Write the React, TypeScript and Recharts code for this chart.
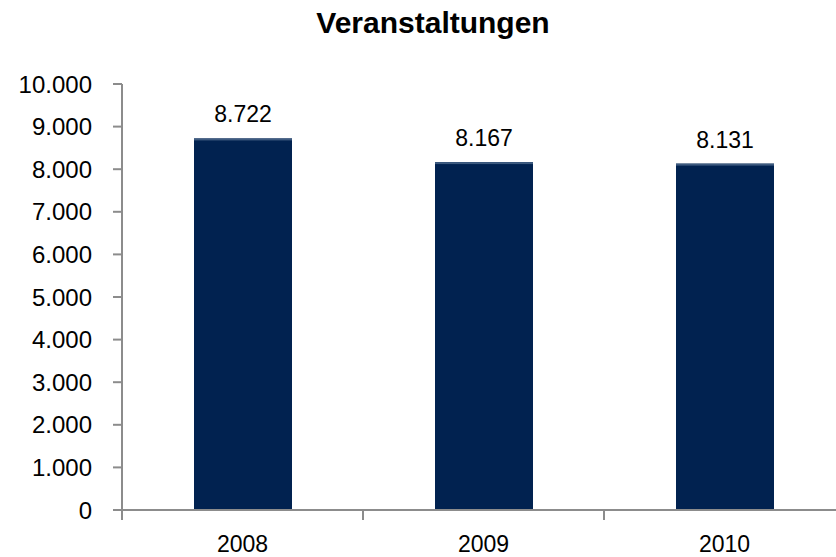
import { BarChart, Bar, XAxis, YAxis, LabelList } from "recharts";

// Veranstaltungen per year
const years = ["2008", "2009", "2010"];
const events = [8722, 8167, 8131];
const yTicks = [0, 1000, 2000, 3000, 4000, 5000, 6000, 7000, 8000, 9000, 10000];

const data = years.map((year, i) => ({ year, value: events[i] }));

const AXIS_GREY = "#8c8c8c";
const BAR_COLOR = "#012250";
const FONT = "'Liberation Sans', Arial, sans-serif";

const fmt = (n: number) => n.toString().replace(/\B(?=(\d{3})+(?!\d))/g, ".");

const BarShape = (props: any) => {
  const { x, y, width, height } = props;
  return (
    <g>
      <rect x={x} y={y} width={width} height={height} fill={BAR_COLOR} />
      <rect x={x} y={y} width={width} height={2} fill="#3d5a7f" />
    </g>
  );
};

// category label plus tick marks on the band edges (excel style)
const YearTick = (props: any) => {
  const { x, y, payload, index, visibleTicksCount, width } = props;
  const band = width && visibleTicksCount ? width / visibleTicksCount : 0;
  const axisY = y - 26;
  const left = x - band / 2;
  const right = x + band / 2;
  return (
    <g>
      {band > 0 && (
        <line x1={left} x2={left} y1={axisY} y2={axisY + 10} stroke={AXIS_GREY} strokeWidth={2} />
      )}
      {band > 0 && index === visibleTicksCount - 1 && (
        <line x1={right} x2={right} y1={axisY} y2={axisY + 10} stroke={AXIS_GREY} strokeWidth={2} />
      )}
      <text
        x={x}
        y={y}
        dy="0.71em"
        textAnchor="middle"
        fontSize={23}
        fill="#000"
        fontFamily={FONT}
      >
        {payload.value}
      </text>
    </g>
  );
};

export default function App() {
  return (
    <div
      style={{
        position: "absolute",
        left: 0,
        top: 0,
        width: 836,
        height: 557,
        overflow: "hidden",
        background: "#fff",
        fontFamily: FONT,
      }}
    >
      <div
        style={{
          position: "absolute",
          left: 0,
          top: 8,
          width: 866,
          textAlign: "center",
          fontSize: 30,
          lineHeight: "30px",
          fontWeight: "bold",
          color: "#000",
        }}
      >
        Veranstaltungen
      </div>
      <BarChart
        width={845}
        height={557}
        data={data}
        margin={{ top: 84, right: 0, bottom: 0, left: 0 }}
      >
        <XAxis
          dataKey="year"
          height={47}
          axisLine={{ stroke: AXIS_GREY, strokeWidth: 2 }}
          tickLine={false}
          tickSize={6}
          tickMargin={20}
          interval={0}
          tick={<YearTick />}
        />
        <YAxis
          width={122}
          domain={[0, 10000]}
          ticks={yTicks}
          interval={0}
          tickFormatter={fmt}
          axisLine={{ stroke: AXIS_GREY, strokeWidth: 2 }}
          tickLine={{ stroke: AXIS_GREY, strokeWidth: 2 }}
          tickSize={9}
          tickMargin={21}
          tick={{ fontSize: 24, fill: "#000", fontFamily: FONT }}
        />
        <Bar
          dataKey="value"
          barSize={98}
          fill={BAR_COLOR}
          shape={BarShape}
          isAnimationActive={false}
        >
          <LabelList
            dataKey="value"
            position="top"
            offset={16}
            formatter={(v: any) => fmt(Number(v))}
            style={{ fontSize: 23, fill: "#000", fontFamily: FONT }}
          />
        </Bar>
      </BarChart>
    </div>
  );
}
